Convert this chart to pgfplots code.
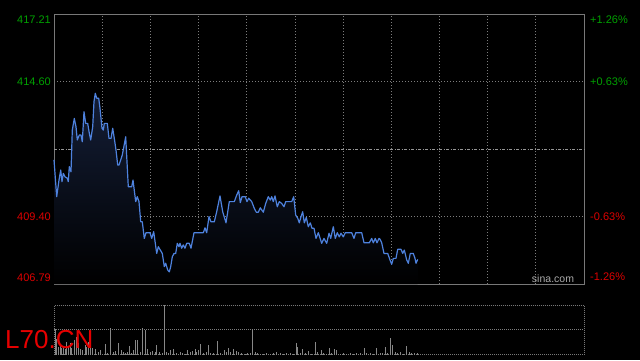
\documentclass[border=0pt]{standalone}
\usepackage{pgfplots}
\pgfplotsset{compat=1.18}
\usepackage{fontspec}
\setmainfont{Liberation Sans}
\definecolor{gridc}{RGB}{125,125,125}
\definecolor{framec}{RGB}{120,120,120}
\definecolor{midc}{RGB}{150,150,150}
\definecolor{upc}{RGB}{0,160,0}
\definecolor{dnc}{RGB}{220,0,0}
\definecolor{linec}{RGB}{78,130,222}
\definecolor{fillc}{RGB}{20,30,55}
\definecolor{barc}{RGB}{135,135,135}
\definecolor{sinac}{RGB}{170,170,170}
\definecolor{namec}{RGB}{230,0,0}

\pgfplotstableread{
t p
0 411.58
2.7 410.16
5 410.80
6.7 411.19
8 410.74
9.3 411.06
11 410.93
13.3 410.87
14.3 410.74
15.3 411.32
17 411.12
18.3 412.73
20.3 413.18
22 412.86
23.3 412.35
25.3 412.54
27 412.54
28.3 412.28
30 413.44
31.7 412.99
33.7 412.99
35.3 412.61
36.7 412.35
38.7 412.86
40 413.83
41.3 414.15
42.7 413.96
44.7 413.96
46 413.57
48 412.80
49.3 412.73
50.3 412.99
53.3 412.99
55 412.41
57 412.41
58.7 412.80
60.3 412.41
62 411.96
63.7 411.38
65 411.38
68.3 411.77
71.7 412.47
74.3 410.54
77.7 410.54
79 410.80
81.7 409.97
83.3 410.16
85 409.97
86.7 409.19
88.3 409.19
90.3 408.55
92 408.77
96 408.77
97.7 408.55
99.7 408.81
102.7 407.97
104.3 408.23
106.3 408.10
108.3 407.97
110.3 407.46
111.7 407.59
113.7 407.33
115.3 407.26
116.7 407.46
118.3 407.84
120 407.97
121.7 407.97
123.3 408.36
125 408.23
126 408.36
127.7 408.17
129.3 408.30
131 408.17
132.7 408.36
135.3 408.36
137 408.17
140 408.77
149.3 408.77
151 408.96
152.7 408.77
155 409.39
157 409.19
160.3 409.19
162.7 409.58
166 410.19
168.7 409.58
172 409.15
175.3 409.97
180.3 409.97
182.7 410.22
184.7 410.39
186.3 409.93
188 410.16
191.3 410.16
193 409.97
194.7 410.10
197.7 409.97
200.3 409.71
202.3 409.56
204.3 409.56
206.3 409.73
209.3 409.56
211.7 409.90
214.3 410.16
216.3 410.03
217.7 410.16
219.3 409.97
221 410.19
223.3 409.77
225.3 409.97
227.7 409.90
230 409.77
231.7 409.97
237.7 409.97
239.7 410.16
241.7 409.45
243.7 409.33
245.3 409.15
247 409.39
248.7 409.58
250.3 409.15
252.3 409.36
254.3 409.00
256.3 409.15
258 408.94
260 408.94
262 408.55
264.3 408.77
267.7 408.36
270 408.55
272.7 408.36
275 408.75
276.7 408.55
279.3 409.00
281.3 408.55
283.3 408.77
285.3 408.61
287 408.75
289.3 408.61
291.3 408.77
297.7 408.77
300 408.55
301.7 408.77
307.7 408.77
310 408.38
315.3 408.38
317.7 408.55
319.3 408.38
321.3 408.55
323 408.38
325 408.55
326 408.52
327.7 408.38
330 407.97
333.7 407.97
336 407.72
337.7 407.55
339.3 407.78
342 407.78
343.7 408.13
347 408.13
348.7 407.97
350.3 408.10
352.7 407.72
354.3 407.59
356.3 407.97
359.3 407.97
361 407.78
362 407.59
363.7 407.74
}\pricedata

\pgfplotstableread{
t v
1.0 75
2.7 45
4.3 23
6.0 28
7.7 18
9.3 23
11.0 15
12.7 38
14.3 23
16.0 33
17.7 18
20.0 43
22.0 53
24.3 33
26.0 15
28.7 13
31.0 28
32.7 23
34.3 38
36.7 23
38.3 18
41.0 15
44.3 8
46.7 13
51.0 30
53.3 5
56.7 78
59.3 8
61.7 11
64.3 33
67.0 13
69.3 8
71.7 5
73.7 8
75.3 25
77.7 5
79.3 13
81.3 43
83.3 43
86.0 8
88.7 78
91.3 73
93.3 15
96.0 8
98.7 11
101.0 8
102.7 28
105.3 8
108.0 5
110.3 148
112.7 8
114.7 5
116.7 13
119.3 15
122.0 5
126.0 8
128.7 5
131.0 3
133.7 13
136.0 8
138.3 11
141.0 15
142.7 8
144.3 13
146.0 31
149.3 5
152.0 8
154.3 28
156.7 5
159.3 5
163.3 40
166.0 5
170.0 13
172.7 8
174.3 18
176.7 8
179.3 15
182.7 11
184.3 8
187.7 5
191.0 3
193.3 5
196.0 5
198.3 75
201.0 8
203.3 5
206.0 3
209.3 3
212.7 5
216.0 3
219.3 5
222.7 8
226.0 5
229.3 3
232.7 5
236.0 5
239.3 3
242.3 35
243.7 23
246.0 5
248.3 15
251.0 5
254.3 11
257.7 3
261.3 36
263.3 8
267.0 13
269.3 5
272.7 3
275.3 18
277.7 5
280.0 15
282.7 13
286.0 3
289.3 5
292.7 3
296.0 5
299.3 3
302.7 5
306.0 5
310.3 18
312.7 5
316.0 5
319.3 3
322.0 18
326.0 5
328.7 5
331.0 23
333.7 5
336.3 48
338.7 28
341.0 8
343.3 5
346.0 8
349.3 3
352.7 25
355.3 8
357.7 5
360.0 5
363.3 5
}\voldata

\begin{document}
\begin{tikzpicture}[x=1pt,y=1pt]
\fill[black] (0,0) rectangle (640,360);

% main price panel
\begin{axis}[
  at={(54pt,76pt)}, anchor=south west,
  width=530pt, height=270pt, scale only axis,
  xmin=0, xmax=530, ymin=406.79, ymax=417.21,
  axis line style={draw=framec, line width=0.8pt},
  xtick={48.18,96.36,144.55,192.73,240.91,289.09,337.27,385.45,433.64,481.82},
  ytick={409.40,414.60},
  extra y ticks={412.00},
  extra y tick style={grid style={draw=midc, line width=0.7pt, dash pattern=on 3pt off 1.5pt on 1pt off 1.5pt}},
  extra y tick labels={},
  xticklabels={}, yticklabels={},
  major tick length=0pt,
  grid=major,
  grid style={draw=gridc, line width=0.7pt, dash pattern=on 1pt off 2pt},
  clip=false,
]
\addplot[draw=none, top color=fillc, bottom color=black] table[x=t,y=p]{\pricedata} \closedcycle;
\addplot[color=linec, line width=1.2pt, line join=round] table[x=t,y=p]{\pricedata};

\node[anchor=east, text=upc, font=\fontsize{11}{12}\selectfont, inner sep=0pt, xshift=-3pt, yshift=-5.5pt] at (axis cs:0,417.21) {417.21};
\node[anchor=east, text=upc, font=\fontsize{11}{12}\selectfont, inner sep=0pt, xshift=-3pt] at (axis cs:0,414.60) {414.60};
\node[anchor=east, text=dnc, font=\fontsize{11}{12}\selectfont, inner sep=0pt, xshift=-3pt] at (axis cs:0,409.40) {409.40};
\node[anchor=east, text=dnc, font=\fontsize{11}{12}\selectfont, inner sep=0pt, xshift=-3pt, yshift=6pt] at (axis cs:0,406.79) {406.79};

\node[anchor=west, text=upc, font=\fontsize{11}{12}\selectfont, inner sep=0pt, xshift=6pt, yshift=-6pt] at (axis cs:530,417.21) {+1.26\%};
\node[anchor=west, text=upc, font=\fontsize{11}{12}\selectfont, inner sep=0pt, xshift=6pt] at (axis cs:530,414.60) {+0.63\%};
\node[anchor=west, text=dnc, font=\fontsize{11}{12}\selectfont, inner sep=0pt, xshift=6pt] at (axis cs:530,409.40) {-0.63\%};
\node[anchor=west, text=dnc, font=\fontsize{11}{12}\selectfont, inner sep=0pt, xshift=6pt, yshift=7pt] at (axis cs:530,406.79) {-1.26\%};
\end{axis}

% volume panel
\begin{axis}[
  at={(54pt,5.5pt)}, anchor=south west,
  width=530pt, height=49.5pt, scale only axis,
  xmin=0, xmax=530, ymin=0, ymax=148,
  axis line style={draw=framec, line width=0.8pt, dash pattern=on 1pt off 1pt},
  xtick=\empty, ytick={74}, yticklabels={},
  major tick length=0pt,
  ymajorgrids,
  grid style={draw=gridc, line width=0.8pt, dash pattern=on 1pt off 1pt},
]
\addplot[ycomb, color=barc, line width=0.9pt, mark=none] table[x=t,y=v]{\voldata};
\end{axis}

\node[anchor=center, text=sinac, font=\fontsize{10.5}{12}\selectfont] at (553,81) {sina.com};
\node[anchor=base west, text=namec, font=\fontsize{26}{26}\selectfont, inner sep=0pt] at (5,11.5) {L70.CN};

\pgfresetboundingbox
\path[use as bounding box] (0,0) rectangle (640,360);
\end{tikzpicture}
\end{document}
